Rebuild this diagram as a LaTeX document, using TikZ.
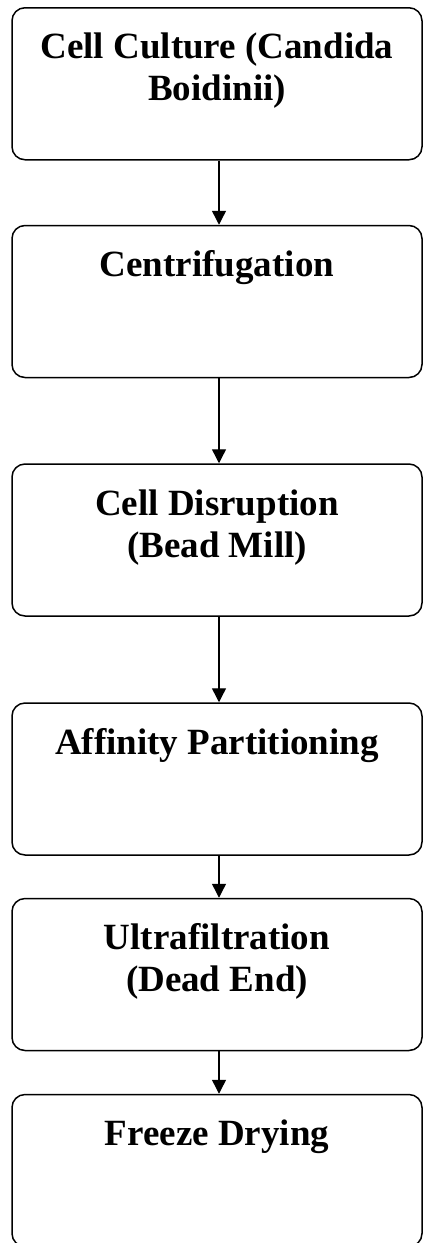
\documentclass[tikz,border=0pt]{standalone}
\usepackage{fontspec}
\setmainfont{Liberation Serif}
\usetikzlibrary{arrows.meta}
\newcommand{\boxtext}[1]{\parbox[c][150pt][t]{400pt}{\centering\rule{0pt}{50pt}#1}}
\tikzset{
  stepbox/.style={draw, line width=1.5pt, rounded corners=13pt, inner sep=0pt,
    minimum width=410pt, minimum height=152pt,
    font=\bfseries\fontsize{37}{42}\selectfont},
  flow/.style={line width=1.4pt, -{Triangle[width=14pt,length=14pt]}}
}
\begin{document}
\begin{tikzpicture}[x=1pt,y=1pt]
\useasboundingbox (0,0) rectangle (423,-1243);
\node[stepbox] (b1) at (217,-83.75) {\boxtext{Cell Culture (Candida\\Boidinii)}};
\node[stepbox] (b2) at (217,-301.5) {\boxtext{Centrifugation}};
\node[stepbox] (b3) at (217,-540) {\boxtext{Cell Disruption\\(Bead Mill)}};
\node[stepbox] (b4) at (217,-779) {\boxtext{Affinity Partitioning}};
\node[stepbox] (b5) at (217,-974.5) {\boxtext{Ultrafiltration\\(Dead End)}};
\node[stepbox] (b6) at (217,-1170.5) {\boxtext{Freeze Drying}};
\draw[flow] ([xshift=2pt]b1.south) -- ([xshift=2pt]b2.north);
\draw[flow] ([xshift=2pt]b2.south) -- ([xshift=2pt]b3.north);
\draw[flow] ([xshift=2pt]b3.south) -- ([xshift=2pt]b4.north);
\draw[flow] ([xshift=2pt]b4.south) -- ([xshift=2pt]b5.north);
\draw[flow] ([xshift=2pt]b5.south) -- ([xshift=2pt]b6.north);
\end{tikzpicture}
\end{document}
